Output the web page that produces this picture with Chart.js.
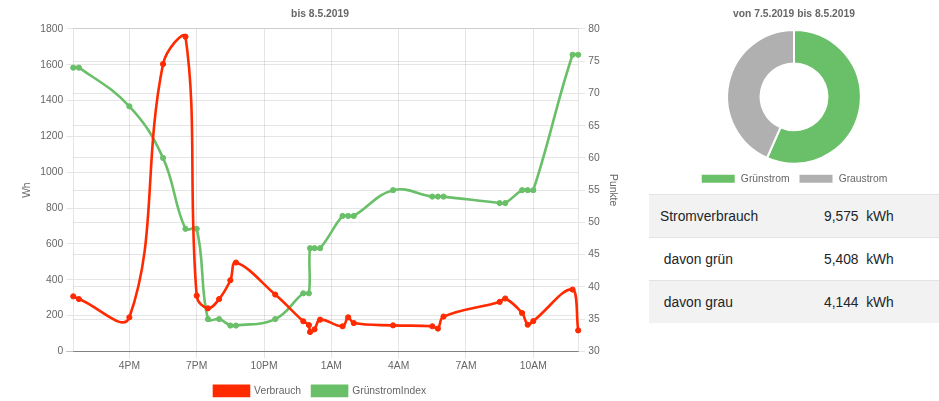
<!DOCTYPE html>
<html lang="de">
<head>
<meta charset="utf-8">
<title>Stromverbrauch</title>
<script src="https://cdn.jsdelivr.net/npm/chart.js@4/dist/chart.umd.min.js"></script>
<style>
  body { margin: 0; background: #fff; overflow: hidden; font-family: "Liberation Sans", Arial, sans-serif; }
  .wrap { display: flex; width: 939px; height: 401px; }
  .left { position: relative; width: 638px; height: 406px; }
  .right { width: 290px; margin-left: 11px; }
  .donut { position: relative; height: 194px; }
  table { width: 290px; table-layout: fixed; border-collapse: collapse; font-size: 13.8px; color: #212529; }
  td { height: 42px; padding: 0 11px; border-top: 1px solid #e3e3e3; vertical-align: middle; white-space: nowrap; }
  td.lbl { width: 142px; }
  tr:nth-child(odd) td { background: #f2f2f2; }
</style>
</head>
<body>
<div class="wrap">
  <div class="left"><canvas id="lineChart"></canvas></div>
  <div class="right">
    <div class="donut"><canvas id="donutChart"></canvas></div>
    <table id="sumTable"></table>
  </div>
</div>
<script>
// =========================
// DATA
// =========================
const TIMES = [13.5, 13.75, 16, 17.5, 18.5, 19, 19.5, 20, 20.5, 20.75, 22.5, 23.75, 24, 24.05, 24.25, 24.5,
  25.5, 25.75, 26, 27.75, 29.5, 29.75, 30, 32.5, 32.75, 33.5, 33.75, 34, 35.75, 36];          // hours from 7.5. 0:00
const VERBRAUCH = [307, 292, 190, 1604, 1757, 311, 240, 292, 397, 496, 317, 168, 147, 108, 123, 177,
  140, 190, 158, 145, 140, 127, 194, 276, 295, 214, 149, 169, 345, 117];                      // Wh
const GRUEN_INDEX = [74, 74, 68, 60, 49, 49, 35, 35, 34, 34, 35, 39, 39, 46, 46, 46,
  51, 51, 51, 55, 54, 54, 54, 53, 53, 55, 55, 55, 76, 76];                                    // Punkte
const X_TICKS = [16, 19, 22, 25, 28, 31, 34];
const X_TICK_LABELS = ["4PM", "7PM", "10PM", "1AM", "4AM", "7AM", "10AM"];

const PIE_LABELS = ["Grünstrom", "Graustrom"];
const PIE_VALUES = [5.408, 4.144];

const TABLE_LABELS = ["Stromverbrauch", "\u00a0davon grün", "\u00a0davon grau"];
const TABLE_VALUES = ["9,575", "5,408", "4,144"];

const RED = "#ff2a00";
const GREEN = "#6abf69";
const GREY = "#b0b0b0";

Chart.defaults.font.family = "'Helvetica Neue', Helvetica, Arial, sans-serif";
Chart.defaults.font.size = 10.3;                                                  // screenshot looks ~0.86 scaled
Chart.defaults.color = "#666";

const gridColor = (ctx) => (ctx.tick && ctx.tick.value === 0 ? "rgba(0,0,0,0.25)" : "rgba(0,0,0,0.1)");
const legendLabels = { boxWidth: 35, boxHeight: 10 };

// =========================
// LINE CHART
// =========================
const lineDs = (label, values, axis, color) => ({
  label,
  data: TIMES.map((t, i) => ({ x: t, y: values[i] })),
  yAxisID: axis,
  borderColor: color,
  backgroundColor: color,
  borderWidth: 2.6,
  pointRadius: 2.6,
  pointBorderWidth: 1,
  tension: 0.4,
  fill: false,
  clip: 5
});

new Chart(document.getElementById("lineChart"), {
  type: "line",
  data: {
    datasets: [
      lineDs("Verbrauch", VERBRAUCH, "y", RED),
      lineDs("GrünstromIndex", GRUEN_INDEX, "y1", GREEN)
    ]
  },
  options: {
    responsive: true,
    maintainAspectRatio: false,
    animation: false,
    layout: { padding: { left: 17, right: 15, bottom: 0 } },
    plugins: {
      title: { display: true, text: "bis 8.5.2019", font: { weight: "bold" }, padding: { top: 8, bottom: 8.6 } },
      legend: { position: "bottom", labels: { ...legendLabels, padding: 11 } },
      tooltip: { enabled: false }
    },
    scales: {
      x: {
        type: "linear",
        min: TIMES[0],
        max: TIMES[TIMES.length - 1],
        afterBuildTicks: (axis) => { axis.ticks = X_TICKS.map(v => ({ value: v })); },
        ticks: { callback: (v) => X_TICK_LABELS[X_TICKS.indexOf(v)] ?? "", maxRotation: 0, padding: 2 },
        grid: { color: "rgba(0,0,0,0.1)", tickLength: 7 },
        border: { color: "rgba(0,0,0,0.25)" }
      },
      y: {
        position: "left",
        min: 0,
        max: 1800,
        ticks: { stepSize: 200, callback: (v) => String(v) },
        grid: { color: gridColor, tickLength: 7 },
        title: { display: true, text: "Wh" }
      },
      y1: {
        position: "right",
        min: 30,
        max: 80,
        ticks: { stepSize: 5, callback: (v) => String(v) },
        grid: { color: "rgba(0,0,0,0.1)", tickLength: 7 },
        title: { display: true, text: "Punkte" }
      }
    }
  }
});

// =========================
// DOUGHNUT
// =========================
new Chart(document.getElementById("donutChart"), {
  type: "doughnut",
  data: {
    labels: PIE_LABELS,
    datasets: [{ data: PIE_VALUES, backgroundColor: [GREEN, GREY], borderColor: "#fff", borderWidth: 2 }]
  },
  options: {
    responsive: true,
    maintainAspectRatio: false,
    animation: false,
    cutout: "50%",
    plugins: {
      title: { display: true, text: "von 7.5.2019 bis 8.5.2019", font: { weight: "bold" }, padding: { top: 8, bottom: 8.6 } },
      legend: { position: "bottom", labels: { ...legendLabels, padding: 9 } },
      tooltip: { enabled: false }
    }
  }
});

// =========================
// TABLE
// =========================
document.getElementById("sumTable").innerHTML = TABLE_LABELS
  .map((l, i) => `<tr><td class="lbl">${l}</td><td>${TABLE_VALUES[i]}&nbsp; kWh</td></tr>`)
  .join("");
</script>
</body>
</html>
